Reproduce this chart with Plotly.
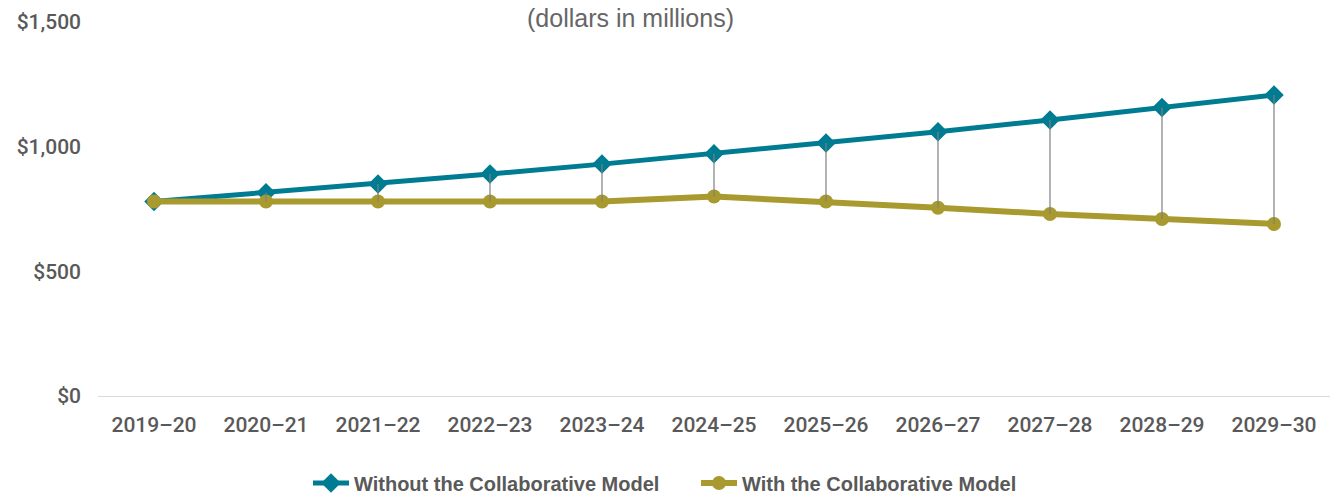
import plotly.graph_objects as go

# Fiscal years along the category axis
years = ["2019–20", "2020–21", "2021–22", "2022–23", "2023–24", "2024–25",
         "2025–26", "2026–27", "2027–28", "2028–29", "2029–30"]

# Annual costs, dollars in millions
without_model = [780, 815, 850, 890, 930, 972, 1015, 1060, 1107, 1157, 1207]
with_model = [780, 780, 780, 780, 780, 800, 780, 755, 730, 710, 690]

# Y-axis ticks
y_ticks = [0, 500, 1000, 1500]
y_tick_text = ["$0", "$500", "$1,000", "$1,500"]

TEAL = "#007C92"
GOLD = "#A89A2E"
GREY_TXT = "#595959"
TICK_FONT = dict(size=21, family="Roboto", color=GREY_TXT, weight=500)

fig = go.Figure()

fig.add_trace(go.Scatter(
    x=years, y=without_model, name="Without the Collaborative Model",
    mode="lines+markers",
    line=dict(color=TEAL, width=5),
    marker=dict(symbol="diamond", size=15, color=TEAL),
))
fig.add_trace(go.Scatter(
    x=years, y=with_model, name="With the Collaborative Model",
    mode="lines+markers",
    line=dict(color=GOLD, width=6),
    marker=dict(symbol="circle", size=14, color=GOLD),
))

# High-low connector lines between the two series
hl_x, hl_y = [], []
for yr, hi, lo in zip(years, without_model, with_model):
    hl_x += [yr, yr, None]
    hl_y += [hi, lo, None]
fig.add_trace(go.Scatter(
    x=hl_x, y=hl_y, mode="lines", showlegend=False, hoverinfo="skip",
    line=dict(color="#7F7F7F", width=1.2),
))

fig.update_layout(
    width=1333, height=497,
    margin=dict(l=98, r=3, t=22, b=101, autoexpand=False),
    paper_bgcolor="white", plot_bgcolor="white",
    font=dict(family="Liberation Sans", color=GREY_TXT),
    showlegend=True,
    legend=dict(
        orientation="h", xref="container", yref="container",
        x=308 / 1333, xanchor="left", y=14 / 497, yanchor="middle",
        font=dict(size=20, family="Liberation Sans", color=GREY_TXT, weight="bold"),
        itemwidth=36, tracegroupgap=0, entrywidth=337,
    ),
    annotations=[dict(
        text="(dollars in millions)", xref="paper", yref="paper",
        x=0.432, y=1.0 + 20 / 374, xanchor="center", yanchor="top",
        showarrow=False, font=dict(size=25, color="#666666", family="Liberation Sans"),
    )],
)

fig.update_xaxes(
    type="category", showgrid=False, showline=True, linecolor="#D9D9D9", linewidth=1,
    ticks="", tickfont=TICK_FONT, ticklabelstandoff=10,
    range=[-0.5, 10.5], fixedrange=True,
)
fig.update_yaxes(
    range=[0, 1500], tickvals=y_ticks, ticktext=y_tick_text, showgrid=False,
    zeroline=False, showline=False, ticks="",
    tickfont=TICK_FONT, ticklabelstandoff=16,
)

fig.write_html("out.html")
